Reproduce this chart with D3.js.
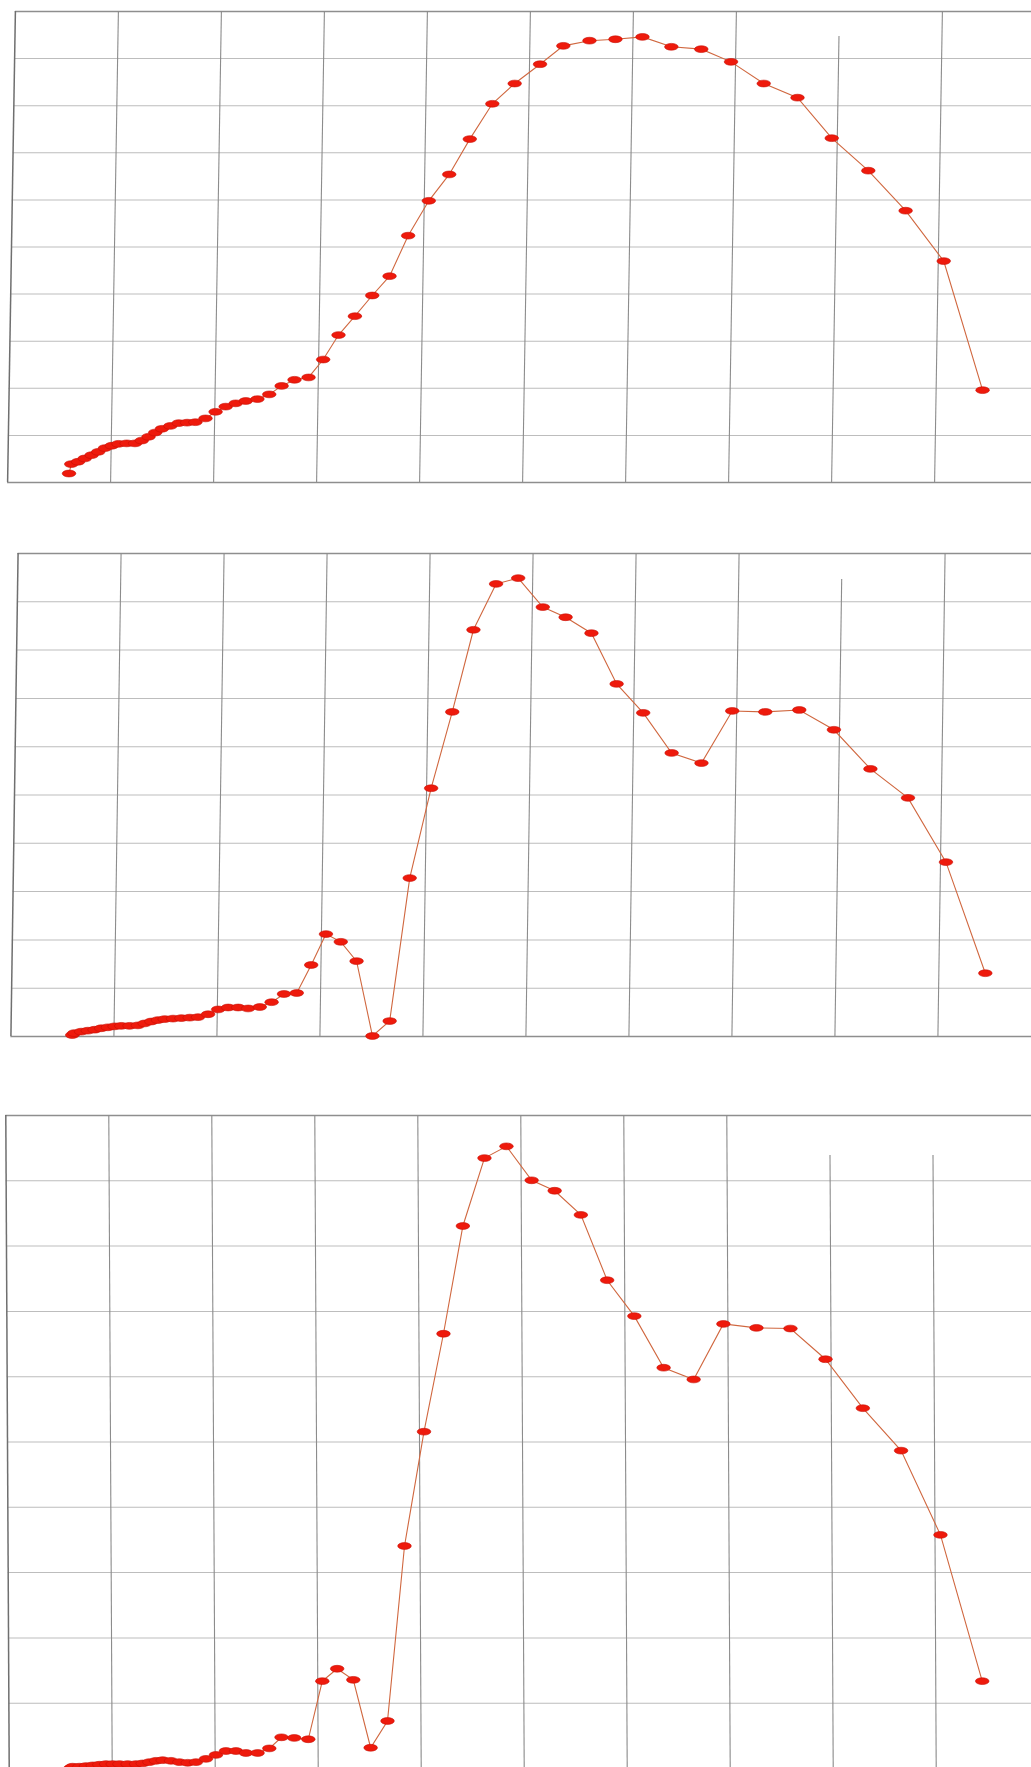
<!DOCTYPE html>
<html>
<head>
<meta charset="utf-8">
<script src="https://cdn.jsdelivr.net/npm/d3@7"></script>
<style>
  html, body { margin: 0; padding: 0; background: #fff; }
  svg { display: block; }
</style>
</head>
<body>
<svg id="chart"></svg>
<script>
// x positions shared by all three panels (grid units, one per vertical gridline)
const xPos = [
  0.60, 0.62, 0.686, 0.750, 0.816, 0.880, 0.945, 1.010, 1.075, 1.155,
  1.236, 1.301, 1.366, 1.430, 1.495, 1.576, 1.657, 1.738, 1.818, 1.916,
  2.013, 2.110, 2.207, 2.304, 2.417, 2.531, 2.650, 2.774, 2.910, 3.049,
  3.194, 3.350, 3.515, 3.680, 3.854, 4.049, 4.243, 4.437, 4.650, 4.864,
  5.107, 5.330, 5.583, 5.835, 6.097, 6.379, 6.670, 6.961, 7.282, 7.612,
  7.951, 8.311, 8.680, 9.058, 9.456
];

// top panel
const seriesA = [
  0.18, 0.38, 0.43, 0.50, 0.57, 0.64, 0.72, 0.77, 0.81, 0.82,
  0.82, 0.88, 0.96, 1.05, 1.13, 1.19, 1.25, 1.26, 1.27, 1.35,
  1.49, 1.60, 1.67, 1.72, 1.76, 1.86, 2.04, 2.17, 2.22, 2.60,
  3.12, 3.52, 3.96, 4.37, 5.23, 5.97, 6.53, 7.28, 8.03, 8.46,
  8.87, 9.26, 9.37, 9.40, 9.45, 9.24, 9.19, 8.92, 8.46, 8.16,
  7.30, 6.61, 5.76, 4.69, 1.95
];

// middle panel
const seriesB = [
  0.02, 0.06, 0.09, 0.11, 0.13, 0.16, 0.18, 0.20, 0.21, 0.21,
  0.22, 0.26, 0.30, 0.33, 0.35, 0.36, 0.37, 0.38, 0.39, 0.45,
  0.55, 0.59, 0.59, 0.57, 0.60, 0.70, 0.87, 0.89, 1.47, 2.11,
  1.95, 1.55, 0.00, 0.31, 3.27, 5.13, 6.71, 8.41, 9.36, 9.48,
  8.88, 8.67, 8.34, 7.29, 6.69, 5.86, 5.65, 6.73, 6.71, 6.75,
  6.34, 5.53, 4.93, 3.60, 1.30
];

// bottom panel
const seriesC = [
  0.00, 0.02, 0.02, 0.03, 0.04, 0.05, 0.06, 0.06, 0.06, 0.06,
  0.06, 0.07, 0.09, 0.11, 0.12, 0.11, 0.09, 0.08, 0.09, 0.14,
  0.20, 0.26, 0.26, 0.23, 0.23, 0.30, 0.47, 0.46, 0.44, 1.33,
  1.52, 1.35, 0.31, 0.72, 3.40, 5.15, 6.65, 8.30, 9.34, 9.52,
  9.00, 8.84, 8.47, 7.47, 6.92, 6.13, 5.95, 6.80, 6.74, 6.73,
  6.26, 5.51, 4.86, 3.57, 1.33
];

const xTicks = d3.range(0, 11);
const yTicks = d3.range(0, 11);

const W = 1031, H = 1767;

const svg = d3.select("#chart")
    .attr("width", W)
    .attr("height", H);

svg.append("rect").attr("width", W).attr("height", H).attr("fill", "#fff");

const panels = [
  { values: seriesA, left: 11, top: 11,   bottom: 482,  skew: -0.95, gaps: { 8: 25 } },
  { values: seriesB, left: 14, top: 553,  bottom: 1036, skew: -0.85, gaps: { 8: 26 } },
  { values: seriesC, left: 7,  top: 1115, bottom: 1768, skew: 0.3,   gaps: { 8: 40, 9: 40 } }
];

panels.forEach((p, i) => {
  const h = p.bottom - p.top;
  const cy = (p.top + p.bottom) / 2;

  const x = d3.scaleLinear().domain([0, 10]).range([p.left, p.left + 1030]);
  const y = d3.scaleLinear().domain([0, 10]).range([p.bottom, p.top]);

  const g = svg.append("g")
      .attr("transform", `translate(0,${cy}) skewX(${p.skew}) translate(0,${-cy})`);

  // horizontal gridlines
  const gy = g.append("g")
      .attr("transform", `translate(${p.left},0)`)
      .call(d3.axisLeft(y).tickValues(yTicks).tickSize(-1100).tickFormat(""));
  gy.select(".domain").remove();
  gy.selectAll(".tick line")
      .attr("stroke", d => (d === 0 || d === 10) ? "#8e8e8e" : "#bdbdbd")
      .attr("stroke-width", d => (d === 0 || d === 10) ? 1.3 : 1);

  // vertical gridlines
  const gx = g.append("g")
      .attr("transform", `translate(0,${p.bottom})`)
      .call(d3.axisBottom(x).tickValues(xTicks).tickSize(-h).tickFormat(""));
  gx.select(".domain").remove();
  gx.selectAll(".tick line")
      .attr("y2", d => -(h - (p.gaps[d] || 0)))
      .attr("stroke", d => d === 0 ? "#6f6f6f" : "#8c8c8c")
      .attr("stroke-width", d => d === 0 ? 1.5 : 1.1);

  const pts = xPos.map((xv, j) => [xv, p.values[j]]);

  g.append("path")
      .datum(pts)
      .attr("fill", "none")
      .attr("stroke", "#d0673f")
      .attr("stroke-width", 1.1)
      .attr("d", d3.line().x(d => x(d[0])).y(d => y(d[1])));

  g.append("g")
    .selectAll("ellipse")
    .data(pts)
    .join("ellipse")
      .attr("cx", d => x(d[0]))
      .attr("cy", d => y(d[1]))
      .attr("rx", 6.8)
      .attr("ry", 3.4)
      .attr("fill", "#ee1a0c")
      .attr("stroke", "#c80f05")
      .attr("stroke-width", 0.6);
});
</script>
</body>
</html>
